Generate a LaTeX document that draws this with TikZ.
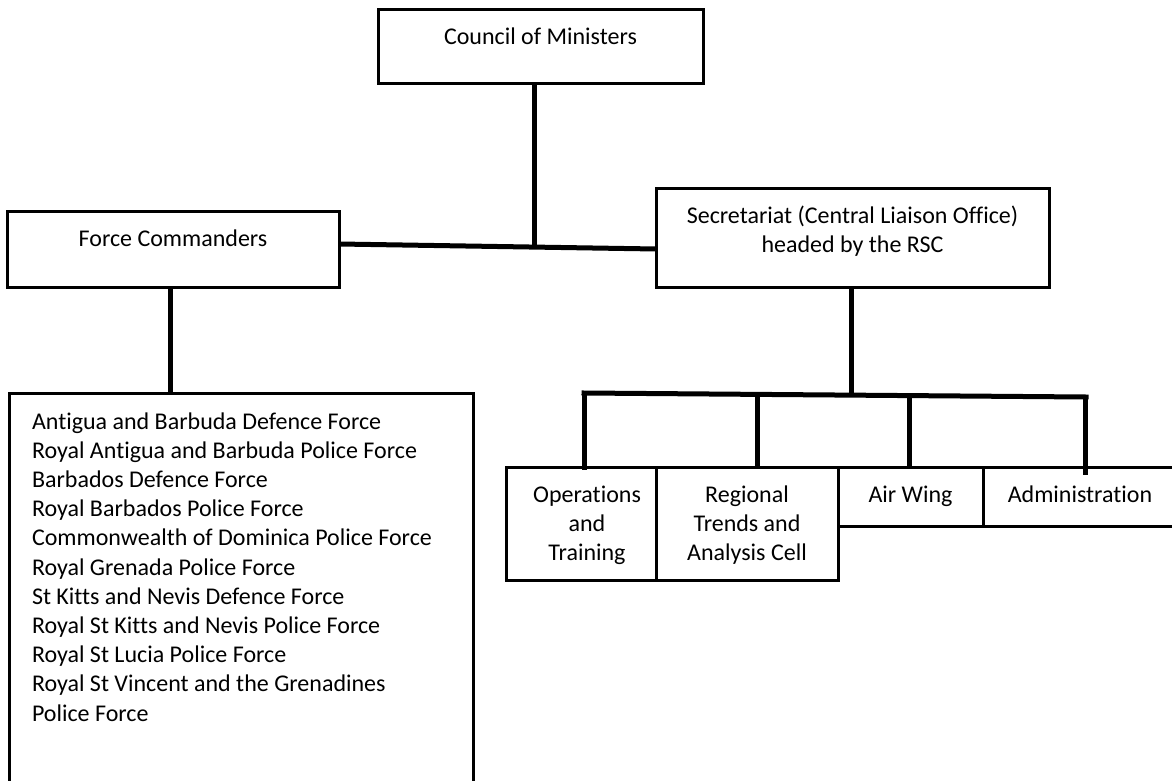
\documentclass[tikz,border=0pt]{standalone}
\usepackage{fontspec}
\setmainfont{Carlito}[Ligatures=CommonOff]
\newcommand\txtfont{\fontsize{24}{29.2}\selectfont}
\newcommand\firststrut{\rule{0pt}{21pt}}
\tikzset{
  box/.style={draw, line width=3pt, rectangle, anchor=north west, inner sep=0pt, outer sep=0pt},
  conn/.style={line width=5pt},
  lab/.style={anchor=north, inner sep=0pt, outer sep=0pt, align=center, font=\txtfont},
}
\begin{document}
\begin{tikzpicture}[x=1pt,y=-1pt]
\useasboundingbox (0,0) rectangle (1172,781);
\clip (0,0) rectangle (1172,781);
% boxes
\node[box, minimum width=325pt, minimum height=74pt,
  label={[lab,yshift=-14pt]north:\firststrut Council of Ministers}] (council) at (378,10) {};
\node[box, minimum width=332pt, minimum height=76pt,
  label={[lab,yshift=-14pt]north:\firststrut Force Commanders}] (fc) at (7,211) {};
\node[box, minimum width=393pt, minimum height=99pt,
  label={[lab,yshift=-14pt]north:\firststrut Secretariat (Central Liaison Office)\\headed by the RSC}] (sec) at (656,188) {};
\node[box, minimum width=464pt, minimum height=420pt,
  label={[lab,anchor=north west,align=left,xshift=23pt,yshift=-15pt]north west:\firststrut Antigua and Barbuda Defence Force\\
Royal Antigua and Barbuda Police Force\\
Barbados Defence Force\\
Royal Barbados Police Force\\
Commonwealth of Dominica Police Force\\
Royal Grenada Police Force\\
St Kitts and Nevis Defence Force\\
Royal St Kitts and Nevis Police Force\\
Royal St Lucia Police Force\\
Royal St Vincent and the Grenadines\\
Police Force}] (list) at (9,393) {};
\node[box, minimum width=150pt, minimum height=113pt,
  label={[lab,xshift=6pt,yshift=-14pt]north:\firststrut Operations\\and\\Training}] (ops) at (506,467) {};
\node[box, minimum width=182pt, minimum height=113pt,
  label={[lab,yshift=-14pt]north:\firststrut Regional\\Trends and\\Analysis Cell}] (reg) at (656,467) {};
\node[box, minimum width=145pt, minimum height=59pt,
  label={[lab,yshift=-14pt]north:\firststrut Air Wing}] (air) at (838,467) {};
\node[box, minimum width=194pt, minimum height=59pt,
  label={[lab,yshift=-14pt]north:\firststrut Administration}] (adm) at (983,467) {};
% connectors
\coordinate (j) at (534,246);
\coordinate (busL) at (584,393);
\coordinate (busR) at (1086,397);
\draw[conn] ([xshift=-6.5pt]council.south) -- (j);
\draw[conn] ([yshift=5pt]fc.east) -- ([yshift=-11.5pt]sec.west);
\draw[conn] ([xshift=-3pt]fc.south) -- ([xshift=-3pt]fc.south |- list.north);
\draw[conn] ([xshift=-1.5pt]sec.south) -- ([xshift=-1.5pt]sec.south |- busL);
\draw[conn, line cap=rect] (busL) -- (busR);
\draw[conn, line cap=rect] ([xshift=3pt]ops.north) -- ([xshift=3pt]ops.north |- busL);
\draw[conn] ([xshift=10pt]reg.north) -- ([xshift=10pt]reg.north |- busL);
\draw[conn] ([xshift=-1.5pt]air.north) -- ([xshift=-1.5pt]air.north |- busR);
\draw[conn, line cap=rect] ([xshift=5pt,yshift=-5pt]adm.north) -- ([xshift=5pt]adm.north |- busR);
\end{tikzpicture}
\end{document}
